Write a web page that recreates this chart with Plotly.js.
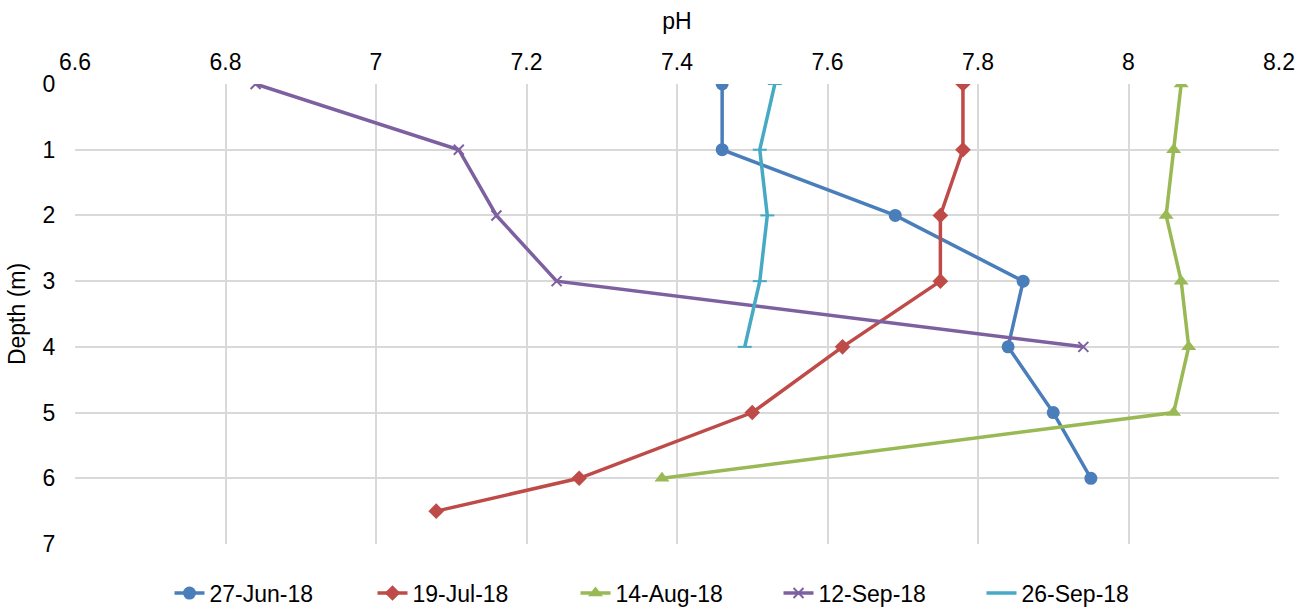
<!DOCTYPE html>
<html><head><meta charset="utf-8">
<script src="https://cdn.plot.ly/plotly-3.0.1.min.js"></script>
<style>html,body{margin:0;padding:0;background:#fff}#chart{width:1299px;height:607px}</style>
</head><body><div id="chart"></div>
<script>
const seriesNames = ["27-Jun-18","19-Jul-18","14-Aug-18","12-Sep-18","26-Sep-18"];
const depthJun27 = [0,1,2,3,4,5,6];
const phJun27 = [7.46,7.46,7.69,7.86,7.84,7.90,7.95];
const depthJul19 = [0,1,2,3,4,5,6,6.5];
const phJul19 = [7.78,7.78,7.75,7.75,7.62,7.50,7.27,7.08];
const depthAug14 = [0,1,2,3,4,5,6];
const phAug14 = [8.07,8.06,8.05,8.07,8.08,8.06,7.38];
const depthSep12 = [0,1,2,3,4];
const phSep12 = [6.84,7.11,7.16,7.24,7.94];
const depthSep26 = [0,1,2,3,4];
const phSep26 = [7.53,7.51,7.52,7.51,7.49];

const colors = ["#4a7ebb","#be4b48","#98b954","#7d60a0","#46aac5"];
const symbols = ["circle","diamond","triangle-up","x-thin","line-ew"];
const sizes = [13,12,13,10,10];
const xs = [phJun27,phJul19,phAug14,phSep12,phSep26];
const ys = [depthJun27,depthJul19,depthAug14,depthSep12,depthSep26];

const traces = seriesNames.map((n,i)=>({
  type:'scatter', mode:'lines+markers', name:n,
  x: xs[i], y: ys[i],
  line:{color:colors[i], width:3.5},
  marker:{color:colors[i], symbol:symbols[i], size:sizes[i],
          line:{color:colors[i], width:(i>=3?2:0)}}
}));

const FAM = 'Liberation Sans, Arial, sans-serif';
const FS = 23;
const tf = {family:FAM, size:FS, color:'#000'};
const layout = {
  width:1299, height:607,
  margin:{l:75, r:20, t:84, b:63, autoexpand:false},
  paper_bgcolor:'#fff', plot_bgcolor:'#fff',
  font: tf,
  showlegend:true,
  legend:{orientation:'h', x:0.5, xanchor:'center', y:-0.06, yanchor:'top',
          font:tf, entrywidth:158, entrywidthmode:'pixels'},
  xaxis:{side:'top', range:[6.6,8.2], dtick:0.2, tick0:6.6,
         showgrid:true, gridcolor:'#d9d9d9', gridwidth:2,
         zeroline:false, showline:false, ticks:'outside', ticklen:4, tickcolor:'rgba(0,0,0,0)',
         title:{text:'pH', font:tf, standoff:12},
         tickfont:tf},
  yaxis:{range:[7,0], dtick:1, showgrid:true, gridcolor:'#d9d9d9', gridwidth:2,
         zeroline:false, showline:false, ticks:'outside', ticklen:14, tickcolor:'rgba(0,0,0,0)',
         title:{text:'Depth (m)', font:tf, standoff:10},
         tickfont:tf}
};
Plotly.newPlot('chart', traces, layout, {displayModeBar:false, staticPlot:true});
</script></body></html>
